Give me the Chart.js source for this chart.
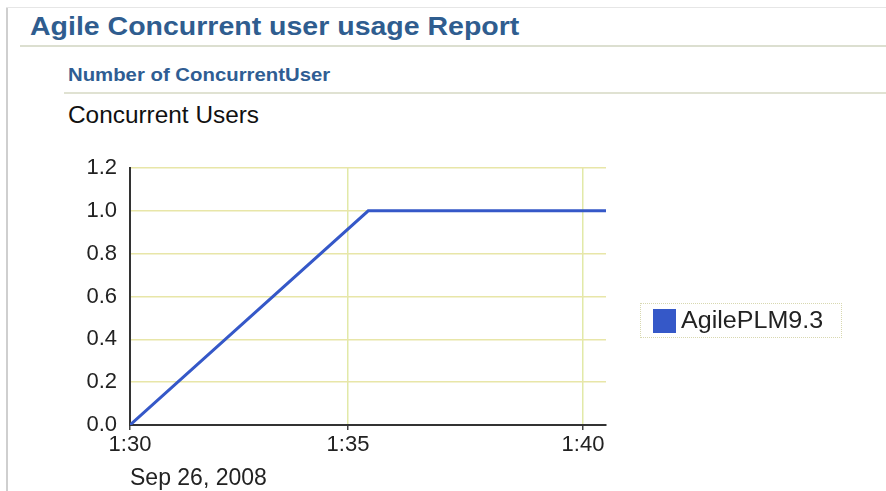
<!DOCTYPE html>
<html>
<head>
<meta charset="utf-8">
<script src="https://cdn.jsdelivr.net/npm/chart.js@4"></script>
<style>
  html, body { margin: 0; padding: 0; background: #fff; }
  body { width: 886px; height: 491px; position: relative; overflow: hidden; font-family: "Liberation Sans", Arial, sans-serif; }
  #frameL { position: absolute; left: 6px; top: 7px; width: 2px; height: 484px; background: #cfcfcf; }
  #frameT { position: absolute; left: 6px; top: 7px; width: 880px; height: 1px; background: #e6e6e6; }
  .sx { transform-origin: 0 50%; }
  #h1 { position: absolute; left: 30px; top: 11px; font-size: 25px; font-weight: bold; color: #2f5d8f; line-height: 30px; white-space: nowrap; transform: scaleX(1.14); }
  #h1line { position: absolute; left: 20px; top: 45px; width: 866px; height: 2px; background: #dcdfd0; }
  #h2 { position: absolute; left: 68px; top: 64px; font-size: 18px; font-weight: bold; color: #2f5d93; line-height: 22px; white-space: nowrap; transform: scaleX(1.13); }
  #h2line { position: absolute; left: 64px; top: 92px; width: 822px; height: 2px; background: #e0e2d2; }
  #h3 { position: absolute; left: 68px; top: 101px; font-size: 23px; color: #111; line-height: 28px; white-space: nowrap; transform: scaleX(1.06); }
  #legend { position: absolute; left: 640px; top: 303px; width: 202px; height: 35px; border: 1px dotted #d8d8b0; box-sizing: border-box; }
  #legSwatch { position: absolute; left: 12px; top: 5px; width: 23px; height: 24px; }
  #legText { position: absolute; left: 40px; top: 2px; font-size: 23px; line-height: 29px; color: #222; white-space: nowrap; transform: scaleX(1.09); }
  #c { position: absolute; left: 0; top: 0; }
</style>
</head>
<body>
<div id="frameL"></div>
<div id="frameT"></div>
<div id="h1" class="sx">Agile Concurrent user usage Report</div>
<div id="h1line"></div>
<div id="h2" class="sx">Number of ConcurrentUser</div>
<div id="h2line"></div>
<div id="h3" class="sx">Concurrent Users</div>
<canvas id="c" width="886" height="491"></canvas>
<div id="legend"><div id="legSwatch"></div><div id="legText" class="sx"></div></div>
<script>
// Data: minutes after 1:30 (Sep 26, 2008) and concurrent user counts
const seriesName = "AgilePLM9.3";
const timeMinutes = [0.36, 5.43, 10.49];
const userCounts = [0, 1, 1];
const xTickValues = [0.36, 5, 10];
const xTickLabels = ["1:30", "1:35", "1:40"];
const yTickValues = [0, 0.2, 0.4, 0.6, 0.8, 1.0, 1.2];
const dateLabel = "Sep 26, 2008";
const lineColor = "#3558c8";

const ctx = document.getElementById('c').getContext('2d');
const chart = new Chart(ctx, {
  type: 'line',
  data: {
    datasets: [{
      label: seriesName,
      data: timeMinutes.map((t, i) => ({ x: t, y: userCounts[i] })),
      borderColor: lineColor,
      backgroundColor: lineColor,
      borderWidth: 3,
      pointRadius: 0,
      tension: 0,
      fill: false
    }]
  },
  options: {
    responsive: false,
    animation: false,
    events: [],
    layout: { padding: { left: 0, top: 168, right: 280, bottom: 0 } },
    plugins: { legend: { display: false }, tooltip: { enabled: false } },
    scales: {
      x: {
        type: 'linear',
        min: timeMinutes[0],
        max: timeMinutes[timeMinutes.length - 1],
        afterBuildTicks: (s) => { s.ticks = xTickValues.map(v => ({ value: v })); },
        afterFit: (s) => { s.height = 491 - 425; },
        ticks: {
          autoSkip: false,
          maxRotation: 0,
          padding: 2,
          color: '#222',
          font: { family: 'Liberation Sans, Arial', size: 22 },
          callback: (v, i) => xTickLabels[i]
        },
        grid: {
          color: (c) => (c.index === 0 ? 'rgba(0,0,0,0)' : '#e2e9a8'),
          lineWidth: 1.5,
          tickColor: '#444',
          tickLength: 5
        },
        border: { color: '#333', width: 2 },
        title: {
          display: true,
          text: dateLabel,
          align: 'start',
          color: '#222',
          font: { family: 'Liberation Sans, Arial', size: 23 },
          padding: { top: 0, bottom: -1 }
        }
      },
      y: {
        min: 0,
        max: 1.2,
        afterBuildTicks: (s) => { s.ticks = yTickValues.map(v => ({ value: v })); },
        afterFit: (s) => { s.width = 130; },
        ticks: {
          padding: 13,
          color: '#222',
          font: { family: 'Liberation Sans, Arial', size: 22 },
          callback: (v) => Number(v).toFixed(1)
        },
        grid: {
          color: (c) => (c.index === 0 ? 'rgba(0,0,0,0)' : '#e8e6a8'),
          lineWidth: 1.5,
          drawTicks: false
        },
        border: { color: '#333', width: 2 }
      }
    }
  }
});

document.getElementById('legSwatch').style.background = chart.data.datasets[0].borderColor;
document.getElementById('legText').textContent = chart.data.datasets[0].label;
</script>
</body>
</html>
